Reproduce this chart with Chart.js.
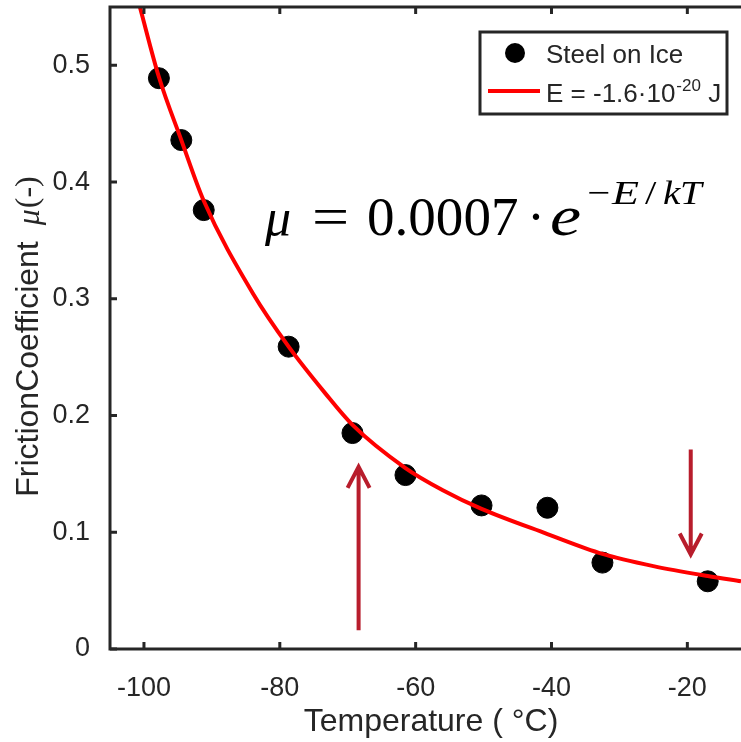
<!DOCTYPE html>
<html>
<head>
<meta charset="utf-8">
<title>Steel on Ice</title>
<script src="https://cdn.jsdelivr.net/npm/chart.js@4.4.0/dist/chart.umd.min.js"></script>
<style>
    html, body { margin: 0; padding: 0; background: #fff; overflow: hidden; }
    #wrap { width: 741px; height: 742px; }
    canvas { display: block; }
</style>
</head>
<body>
<div id="wrap"><canvas id="friction-chart" width="741" height="742"></canvas></div>
<script>
// Measured friction coefficient, steel on ice
const tempC = [-97.8, -94.5, -91.2, -78.7, -69.3, -61.5, -50.3, -40.6, -32.5, -17.0];
const mu = [0.489, 0.436, 0.376, 0.259, 0.185, 0.149, 0.123, 0.121, 0.074, 0.058];

// Fitted curve, E = -1.6e-20 J
const fitTempC = [-100.6, -97.8, -94.5, -91.2, -84, -78.7, -73.3, -69.3, -61.5, -56, -50.3, -40.6, -32.5, -25, -17, -12.1];
const fitMu = [0.550, 0.490, 0.436, 0.384, 0.305, 0.259, 0.219, 0.192, 0.155, 0.136, 0.120, 0.0985, 0.0815, 0.071, 0.0625, 0.058];

// Axis ticks
const xTicks = [-100, -80, -60, -40, -20];
const yTicks = [0, 0.1, 0.2, 0.3, 0.4, 0.5];

// Arrows: temperature, mu at tail, mu at head
const arrowUp = [-68.4, 0.016, 0.156];
const arrowDown = [-19.5, 0.171, 0.081];

const SANS = '"Liberation Sans", Arial, Helvetica, sans-serif';
const SERIF = '"Liberation Serif", "Times New Roman", serif';
const INK = '#262626';
const ARROW_RED = '#b81d2c';

// Box axes with inward ticks (MATLAB style)
const framePlugin = {
    id: 'frame',
    afterDraw(chart) {
        const { ctx, chartArea: a, scales: { x, y } } = chart;
        ctx.save();
        ctx.strokeStyle = INK;
        ctx.lineWidth = 3;
        ctx.lineJoin = 'miter';
        ctx.beginPath();
        ctx.moveTo(a.right + 2, a.top);
        ctx.lineTo(a.left, a.top);
        ctx.lineTo(a.left, a.bottom);
        ctx.lineTo(a.right + 2, a.bottom);
        ctx.stroke();

        ctx.beginPath();
        xTicks.forEach(v => {
            const px = x.getPixelForValue(v);
            ctx.moveTo(px, a.bottom);
            ctx.lineTo(px, a.bottom - 7);
            ctx.moveTo(px, a.top);
            ctx.lineTo(px, a.top + 7);
        });
        yTicks.forEach(v => {
            const py = y.getPixelForValue(v);
            ctx.moveTo(a.left, py);
            ctx.lineTo(a.left + 7, py);
        });
        ctx.stroke();
        ctx.restore();
    }
};

function drawArrow(ctx, x, y, spec) {
    const px = x.getPixelForValue(spec[0]);
    const tail = y.getPixelForValue(spec[1]);
    const head = y.getPixelForValue(spec[2]);
    const dir = head < tail ? 1 : -1;   // 1 = pointing up
    ctx.beginPath();
    ctx.moveTo(px, tail);
    ctx.lineTo(px, head);
    ctx.moveTo(px - 11, head + dir * 21);
    ctx.lineTo(px, head);
    ctx.lineTo(px + 11, head + dir * 21);
    ctx.stroke();
}

// text drawn a little wider than the font, like TeX math glyphs
function wideText(ctx, text, font, px, py, sx) {
    ctx.save();
    ctx.translate(px, py);
    ctx.scale(sx, 1);
    ctx.font = font;
    ctx.fillText(text, 0, 0);
    ctx.restore();
}

// Equation, arrows, legend and axis titles
const annotatePlugin = {
    id: 'annotate',
    afterDraw(chart) {
        const { ctx, scales: { x, y } } = chart;
        ctx.save();

        // arrows
        ctx.strokeStyle = ARROW_RED;
        ctx.lineWidth = 4;
        ctx.lineCap = 'butt';
        ctx.lineJoin = 'miter';
        drawArrow(ctx, x, y, arrowUp);
        drawArrow(ctx, x, y, arrowDown);

        // mu = 0.0007 . e^(-E/kT)
        ctx.fillStyle = '#000';
        ctx.textBaseline = 'alphabetic';
        ctx.textAlign = 'left';
        wideText(ctx, '\u03bc', 'italic 52px ' + SERIF, 265, 235, 1);
        wideText(ctx, '=', '54px ' + SERIF, 312, 235, 1.22);
        wideText(ctx, '0.0007', '54px ' + SERIF, 367, 235, 1.02);
        ctx.textAlign = 'center';
        ctx.font = '54px ' + SERIF;
        ctx.fillText('\u00b7', 536, 235);
        ctx.textAlign = 'left';
        wideText(ctx, 'e', 'italic 56px ' + SERIF, 550, 235, 1.25);
        wideText(ctx, '\u2212', '34px ' + SERIF, 587, 204, 1.2);
        wideText(ctx, 'E', 'italic 34px ' + SERIF, 612, 204, 1.3);
        wideText(ctx, '/', '34px ' + SERIF, 645, 204, 1.2);
        wideText(ctx, 'k', 'italic 34px ' + SERIF, 663, 204, 1.15);
        wideText(ctx, 'T', 'italic 34px ' + SERIF, 680, 204, 1.15);

        // legend
        ctx.fillStyle = '#fff';
        ctx.fillRect(480, 32, 247, 82);
        ctx.strokeStyle = INK;
        ctx.lineWidth = 3;
        ctx.strokeRect(480, 32, 247, 82);

        ctx.fillStyle = '#000';
        ctx.beginPath();
        ctx.arc(515, 53, 10, 0, Math.PI * 2);
        ctx.fill();
        ctx.strokeStyle = '#ff0000';
        ctx.lineWidth = 4;
        ctx.beginPath();
        ctx.moveTo(488, 91);
        ctx.lineTo(540, 91);
        ctx.stroke();

        ctx.fillStyle = INK;
        ctx.font = '26px ' + SANS;
        ctx.fillText('Steel on Ice', 546, 63);
        const base = 'E = -1.6\u00b710';
        ctx.fillText(base, 546, 102);
        let cx = 546 + ctx.measureText(base).width + 1;
        ctx.font = '17px ' + SANS;
        ctx.fillText('-20', cx, 91);
        cx += ctx.measureText('-20').width;
        ctx.font = '26px ' + SANS;
        ctx.fillText(' J', cx, 102);

        // x axis title
        ctx.textAlign = 'center';
        ctx.font = '32px ' + SANS;
        ctx.fillText('Temperature ( \u00b0C)', 431, 731);

        // y axis title, rotated
        ctx.translate(29, 337);
        ctx.rotate(-Math.PI / 2);
        ctx.textAlign = 'left';
        ctx.textBaseline = 'middle';
        const t1 = 'FrictionCoefficient';
        ctx.font = '32px ' + SANS;
        const w1 = ctx.measureText(t1).width;
        ctx.font = 'italic 32px ' + SERIF;
        const w2 = ctx.measureText('\u03bc').width;
        ctx.font = '32px ' + SERIF;
        const w3 = ctx.measureText('(-)').width;
        const gap = 16;
        let tx = -(w1 + gap + w2 + w3) / 2;
        ctx.font = '32px ' + SANS;
        ctx.fillText(t1, tx, 0);
        tx += w1 + gap;
        ctx.font = 'italic 32px ' + SERIF;
        ctx.fillText('\u03bc', tx, 2);
        tx += w2 + 1;
        ctx.font = '32px ' + SERIF;
        ctx.fillText('(-)', tx, 0);

        ctx.restore();
    }
};

document.addEventListener('DOMContentLoaded', function() {
    const ctx = document.getElementById('friction-chart').getContext('2d');

    new Chart(ctx, {
        type: 'scatter',
        data: {
            datasets: [
                {
                    label: 'E = -1.6\u00b710^-20 J',
                    data: fitTempC.map((t, i) => ({ x: t, y: fitMu[i] })),
                    showLine: true,
                    borderColor: '#ff0000',
                    borderWidth: 4,
                    pointRadius: 0,
                    cubicInterpolationMode: 'monotone',
                    order: 1
                },
                {
                    label: 'Steel on Ice',
                    data: tempC.map((t, i) => ({ x: t, y: mu[i] })),
                    backgroundColor: '#000',
                    borderColor: '#000',
                    pointRadius: 10.5,
                    pointHoverRadius: 10.5,
                    order: 2
                }
            ]
        },
        options: {
            responsive: false,
            animation: false,
            events: [],
            layout: {
                autoPadding: false,
                padding: { top: 7, right: 0, bottom: 0, left: 0 }
            },
            plugins: {
                legend: { display: false },
                tooltip: { enabled: false }
            },
            scales: {
                x: {
                    type: 'linear',
                    min: -105,
                    max: -12.1,
                    grid: { display: false },
                    border: { display: false },
                    afterBuildTicks: scale => { scale.ticks = xTicks.map(v => ({ value: v })); },
                    afterFit: scale => {
                        scale.height = 93;
                        scale.paddingLeft = 0;
                        scale.paddingRight = 0;
                    },
                    ticks: {
                        font: { family: SANS, size: 27 },
                        color: INK,
                        padding: 15,
                        maxRotation: 0,
                        callback: v => String(v)
                    }
                },
                y: {
                    type: 'linear',
                    min: 0,
                    max: 0.55,
                    grid: { display: false },
                    border: { display: false },
                    afterBuildTicks: scale => { scale.ticks = yTicks.map(v => ({ value: v })); },
                    afterFit: scale => {
                        scale.width = 110;
                        scale.paddingTop = 0;
                        scale.paddingBottom = 0;
                    },
                    ticks: {
                        font: { family: SANS, size: 27 },
                        color: INK,
                        padding: 12,
                        callback: v => v === 0 ? '0' : v.toFixed(1)
                    }
                }
            }
        },
        plugins: [framePlugin, annotatePlugin]
    });
});
</script>
</body>
</html>
